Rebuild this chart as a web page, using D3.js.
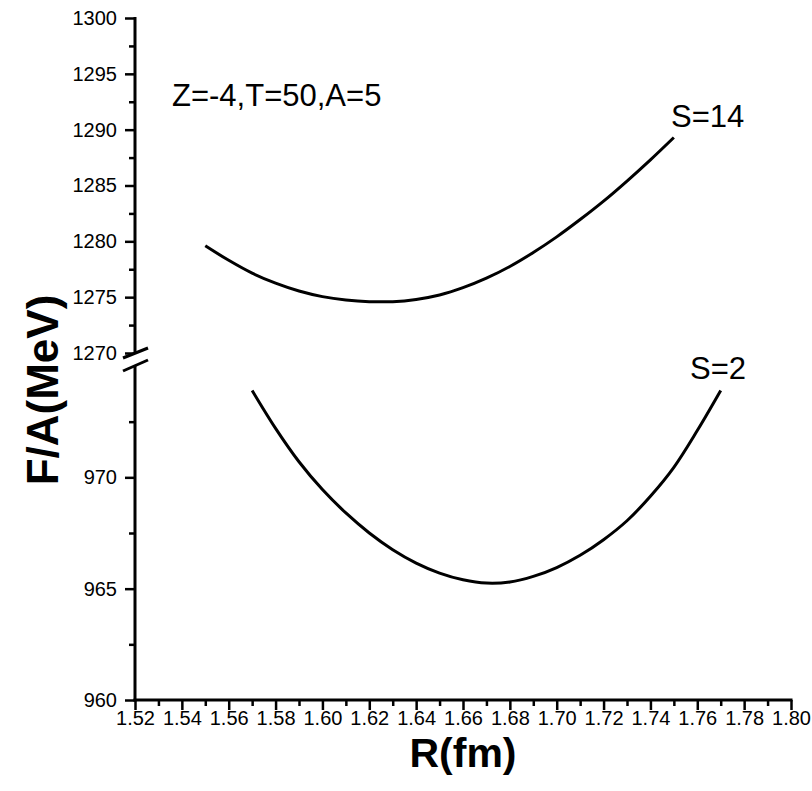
<!DOCTYPE html>
<html>
<head>
<meta charset="utf-8">
<script src="https://cdn.jsdelivr.net/npm/d3@7/dist/d3.min.js"></script>
<style>
  html, body { margin: 0; padding: 0; background: #fff; }
  svg { display: block; }
  text { font-family: "Liberation Sans", Arial, Helvetica, sans-serif; fill: #000; }
</style>
</head>
<body>
<svg id="chart" width="812" height="791"></svg>
<script>
// Free energy per nucleon versus radius, two spin values, broken y axis
const radius = [1.52, 1.80];
const xMajor = [1.52, 1.54, 1.56, 1.58, 1.60, 1.62, 1.64, 1.66, 1.68, 1.70, 1.72, 1.74, 1.76, 1.78, 1.80];
const xMinor = [1.53, 1.55, 1.57, 1.59, 1.61, 1.63, 1.65, 1.67, 1.69, 1.71, 1.73, 1.75, 1.77, 1.79];

const upperDomain = [1270, 1300];
const upperMajor = [1270, 1275, 1280, 1285, 1290, 1295, 1300];
const upperMinor = [1272.5, 1277.5, 1282.5, 1287.5, 1292.5, 1297.5];

const lowerDomain = [960, 975];
const lowerMajor = [960, 965, 970];
const lowerMinor = [962.5, 967.5, 972.5];

// S = 14 (upper panel)
const rS14 = [1.55, 1.56, 1.57, 1.58, 1.59, 1.60, 1.61, 1.62, 1.63, 1.64, 1.65,
              1.66, 1.67, 1.68, 1.69, 1.70, 1.71, 1.72, 1.73, 1.74, 1.75];
const fS14 = [1279.6, 1278.3, 1277.15, 1276.25, 1275.55, 1275.05, 1274.75, 1274.6, 1274.6, 1274.8, 1275.2,
              1275.85, 1276.7, 1277.75, 1279.0, 1280.4, 1281.95, 1283.6, 1285.4, 1287.3, 1289.3];

// S = 2 (lower panel)
const rS2 = [1.57, 1.58, 1.59, 1.60, 1.61, 1.62, 1.63, 1.64, 1.65, 1.66, 1.67,
             1.68, 1.69, 1.70, 1.71, 1.72, 1.73, 1.74, 1.75, 1.76, 1.77];
const fS2 = [973.9, 972.2, 970.7, 969.45, 968.4, 967.5, 966.75, 966.15, 965.7, 965.4, 965.25,
             965.3, 965.55, 965.95, 966.5, 967.2, 968.05, 969.15, 970.45, 972.1, 973.9];

const svg = d3.select("#chart");

const x = d3.scaleLinear().domain(radius).range([135, 791]);
const yUp = d3.scaleLinear().domain(upperDomain).range([353, 18]);
const yLo = d3.scaleLinear().domain(lowerDomain).range([700, 366]);
const axisY = 700;
const axisX = 135;

function styleAxis(g, width) {
  g.select(".domain").remove();
  g.selectAll(".tick line").attr("stroke", "#000").attr("stroke-width", width);
  g.selectAll(".tick text").style("font-size", "20px").attr("fill", "#000");
}

// y axis, upper and lower parts
const fmtInt = d3.format("d");
svg.append("g").attr("transform", `translate(${axisX},0)`)
  .call(d3.axisLeft(yUp).tickValues(upperMajor).tickSize(10).tickPadding(8).tickFormat(fmtInt))
  .call(g => styleAxis(g, 2.5));
svg.append("g").attr("transform", `translate(${axisX},0)`)
  .call(d3.axisLeft(yUp).tickValues(upperMinor).tickSize(6).tickFormat(""))
  .call(g => styleAxis(g, 2.5));
svg.append("g").attr("transform", `translate(${axisX},0)`)
  .call(d3.axisLeft(yLo).tickValues(lowerMajor).tickSize(10).tickPadding(8).tickFormat(fmtInt))
  .call(g => styleAxis(g, 2.5));
svg.append("g").attr("transform", `translate(${axisX},0)`)
  .call(d3.axisLeft(yLo).tickValues(lowerMinor).tickSize(6).tickFormat(""))
  .call(g => styleAxis(g, 2.5));

// x axis
svg.append("g").attr("transform", `translate(0,${axisY})`)
  .call(d3.axisBottom(x).tickValues(xMajor).tickSize(10).tickPadding(1).tickFormat(d3.format(".2f")))
  .call(g => styleAxis(g, 2.5));
svg.append("g").attr("transform", `translate(0,${axisY})`)
  .call(d3.axisBottom(x).tickValues(xMinor).tickSize(6).tickFormat(""))
  .call(g => styleAxis(g, 2.5));

// axis lines with the break marks
const axisLines = svg.append("g").attr("stroke", "#000").attr("stroke-width", 3).attr("fill", "none");
axisLines.append("line").attr("x1", axisX).attr("x2", axisX).attr("y1", yUp(upperDomain[1]) - 1).attr("y2", yUp(upperDomain[0]));
axisLines.append("line").attr("x1", axisX).attr("x2", axisX).attr("y1", yLo(lowerDomain[1])).attr("y2", axisY + 1.5);
axisLines.append("line").attr("x1", axisX - 1.5).attr("x2", x(radius[1]) + 1.5).attr("y1", axisY).attr("y2", axisY);
const breakTop = yUp(upperDomain[0]), breakBot = yLo(lowerDomain[1]);
axisLines.append("line").attr("x1", axisX - 12).attr("y1", breakTop + 5).attr("x2", axisX + 13).attr("y2", breakTop - 5);
axisLines.append("line").attr("x1", axisX - 12).attr("y1", breakBot + 5).attr("x2", axisX + 13).attr("y2", breakBot - 6);

// curves
const lineUp = d3.line().x((d, i) => x(rS14[i])).y(d => yUp(d)).curve(d3.curveCatmullRom);
const lineLo = d3.line().x((d, i) => x(rS2[i])).y(d => yLo(d)).curve(d3.curveCatmullRom);
svg.append("path").datum(fS14).attr("d", lineUp)
  .attr("fill", "none").attr("stroke", "#000").attr("stroke-width", 3);
svg.append("path").datum(fS2).attr("d", lineLo)
  .attr("fill", "none").attr("stroke", "#000").attr("stroke-width", 3);

// annotations
svg.append("text").attr("x", 172).attr("y", 106).style("font-size", "31px").text("Z=-4,T=50,A=5");
svg.append("text").attr("x", 671).attr("y", 127).style("font-size", "31px").text("S=14");
svg.append("text").attr("x", 690).attr("y", 379).style("font-size", "31px").text("S=2");

// axis titles
svg.append("text").attr("x", (x(radius[0]) + x(radius[1])) / 2).attr("y", 767)
  .attr("text-anchor", "middle").style("font-size", "41px").style("font-weight", "bold").text("R(fm)");
svg.append("text").attr("transform", "translate(58,390) rotate(-90)")
  .attr("text-anchor", "middle").style("font-size", "44px").style("font-weight", "bold").text("F/A(MeV)");
</script>
</body>
</html>
